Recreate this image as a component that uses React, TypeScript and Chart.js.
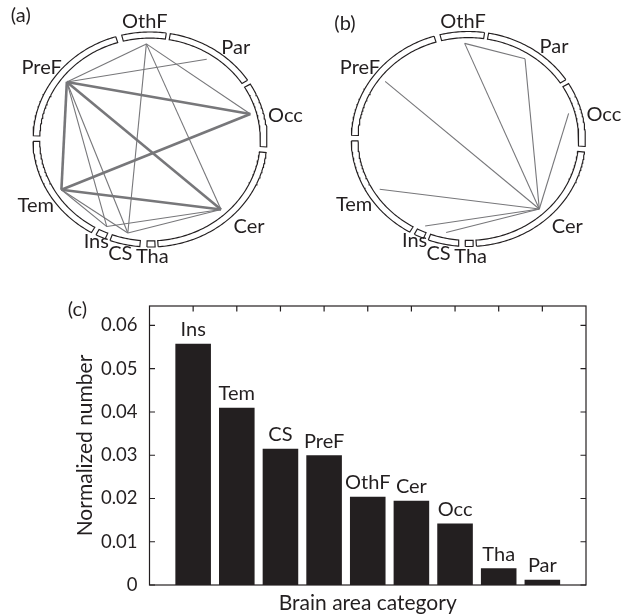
import React, { useEffect, useRef } from 'react';
import { Chart, registerables } from 'chart.js';

Chart.register(...registerables);

// ---------------- DATA ----------------
// Brain regions around the ring (angles in degrees, counter-clockwise from east)
const REGIONS = ['OthF', 'Par', 'Occ', 'Cer', 'Tha', 'CS', 'Ins', 'Tem', 'PreF'];
const REGION_START = [82, 33.5, -4, 274, 268.5, 250, 242.5, 181, 107];
const REGION_END = [104, 80, 31, 353, 272.5, 265, 247.5, 240, 178];
const NODE_ANGLE = [92, 57, 15.5, 313, 270.5, 257.7, 245.5, 211.7, 143];

// Panel (a) connections
const LINKS_A_STRONG = [
  ['PreF', 'Tem'],
  ['PreF', 'Occ'],
  ['PreF', 'Cer'],
  ['Tem', 'Occ'],
  ['Tem', 'Cer'],
];
const LINKS_A_WEAK = [
  ['OthF', 'PreF'],
  ['OthF', 'Occ'],
  ['OthF', 'Cer'],
  ['OthF', 'CS'],
  ['PreF', 'Par'],
  ['PreF', 'Ins'],
  ['PreF', 'CS'],
  ['Tem', 'Ins'],
  ['Tem', 'CS'],
  ['Cer', 'CS'],
  ['Cer', 'Ins'],
];
// Panel (b) connections
const LINKS_B = [
  ['OthF', 'Par'],
  ['OthF', 'Cer'],
  ['Par', 'Cer'],
  ['PreF', 'Cer'],
  ['Occ', 'Cer'],
  ['Tem', 'Cer'],
  ['Ins', 'Cer'],
  ['CS', 'Cer'],
];

// Panel (c) bar chart
const CATEGORIES = ['Ins', 'Tem', 'CS', 'PreF', 'OthF', 'Cer', 'Occ', 'Tha', 'Par'];
const VALUES = [0.0558, 0.041, 0.0315, 0.03, 0.0204, 0.0195, 0.0142, 0.0039, 0.0012];
const Y_TICKS = [0, 0.01, 0.02, 0.03, 0.04, 0.05, 0.06];
const Y_TICK_LABELS = ['0', '0.01', '0.02', '0.03', '0.04', '0.05', '0.06'];
const X_TITLE = 'Brain area category';
const Y_TITLE = 'Normalized number';

// ---------------- LAYOUT / STYLE ----------------
const INK = '#231f20';
const LINK_COLOR = '#77777a';
const FONT = 'Lato, "Open Sans", sans-serif';
const R_OUT = 1.0;
const R_IN = 0.943;
const R_NODE = 0.89;
// label positions (unit coordinates, relative to ring centre)
const LABEL_XY: Record<string, [number, number]> = {
  OthF: [-0.045, 1.102],
  Par: [0.733, 0.863],
  Occ: [1.158, 0.228],
  Cer: [0.846, -0.805],
  Tha: [0.02, -1.084],
  CS: [-0.254, -1.059],
  Ins: [-0.459, -0.942],
  Tem: [-0.976, -0.609],
  PreF: [-0.926, 0.67],
};

const toRad = (d: number) => (d * Math.PI) / 180;
const pointAt = (angle: number, r: number) => ({
  x: r * Math.cos(toRad(angle)),
  y: r * Math.sin(toRad(angle)),
});

function segmentPoints(start: number, end: number) {
  const pts: { x: number; y: number }[] = [];
  const n = Math.max(2, Math.ceil(end - start));
  for (let i = 0; i <= n; i++) pts.push(pointAt(start + ((end - start) * i) / n, R_OUT));
  for (let i = n; i >= 0; i--) pts.push(pointAt(start + ((end - start) * i) / n, R_IN));
  pts.push(pts[0]);
  return pts;
}

function nodePoint(name: string) {
  const i = REGIONS.indexOf(name);
  return pointAt(NODE_ANGLE[i], R_NODE);
}

function ringConfig(
  linkGroups: { links: string[][]; width: number }[],
  xr: [number, number],
  yr: [number, number],
  panel: string,
  panelPos: [number, number]
): any {
  const datasets: any[] = [];
  REGIONS.forEach((_, i) => {
    datasets.push({
      data: segmentPoints(REGION_START[i], REGION_END[i]),
      showLine: true,
      borderColor: INK,
      borderWidth: 1.15,
      pointRadius: 0,
      fill: false,
      tension: 0,
    });
  });
  linkGroups.forEach((g) => {
    g.links.forEach(([a, b]) => {
      datasets.push({
        data: [nodePoint(a), nodePoint(b)],
        showLine: true,
        borderColor: LINK_COLOR,
        borderWidth: g.width,
        pointRadius: 0,
        fill: false,
      });
    });
  });
  const labelPlugin = {
    id: 'ringLabels' + panel,
    afterDraw(chart: any) {
      const ctx = chart.ctx;
      const xs = chart.scales.x;
      const ys = chart.scales.y;
      ctx.save();
      ctx.fillStyle = INK;
      ctx.font = `20px ${FONT}`;
      ctx.textAlign = 'center';
      ctx.textBaseline = 'alphabetic';
      REGIONS.forEach((name) => {
        const [lx, ly] = LABEL_XY[name];
        ctx.fillText(name, xs.getPixelForValue(lx), ys.getPixelForValue(ly) + 7);
      });
      ctx.font = `20px ${FONT}`;
      ctx.fillText(panel, panelPos[0], panelPos[1]);
      ctx.restore();
    },
  };
  return {
    type: 'scatter',
    data: { datasets },
    options: {
      responsive: false,
      animation: false,
      events: [],
      layout: { padding: 0 },
      scales: {
        x: { type: 'linear', min: xr[0], max: xr[1], display: false },
        y: { type: 'linear', min: yr[0], max: yr[1], display: false },
      },
      plugins: { legend: { display: false }, tooltip: { enabled: false } },
    },
    plugins: [labelPlugin],
  };
}

function barConfig(): any {
  const framePlugin = {
    id: 'frameAndLabels',
    afterDraw(chart: any) {
      const ctx = chart.ctx;
      const { left, right, top, bottom } = chart.chartArea;
      const xs = chart.scales.x;
      const ys = chart.scales.y;
      ctx.save();
      ctx.strokeStyle = INK;
      ctx.lineWidth = 1.2;
      ctx.strokeRect(left, top, right - left, bottom - top);
      ctx.beginPath();
      Y_TICKS.forEach((v) => {
        const y = ys.getPixelForValue(v);
        ctx.moveTo(left, y);
        ctx.lineTo(left + 5.5, y);
        ctx.moveTo(right, y);
        ctx.lineTo(right - 5.5, y);
      });
      CATEGORIES.forEach((_, i) => {
        const x = xs.getPixelForValue(i + 1);
        ctx.moveTo(x, top);
        ctx.lineTo(x, top + 5.5);
      });
      ctx.stroke();
      // bar labels
      ctx.fillStyle = INK;
      ctx.font = `20px ${FONT}`;
      ctx.textAlign = 'center';
      ctx.textBaseline = 'alphabetic';
      CATEGORIES.forEach((c, i) => {
        const x = xs.getPixelForValue(i + 1);
        const y = ys.getPixelForValue(VALUES[i]);
        ctx.fillText(c, x, y - 7.5);
      });
      // axis titles
      ctx.font = `21px ${FONT}`;
      ctx.fillText(X_TITLE, (left + right) / 2, 330);
      ctx.save();
      ctx.translate(91.5, (top + bottom) / 2);
      ctx.rotate(-Math.PI / 2);
      ctx.fillText(Y_TITLE, 0, 0);
      ctx.restore();
      ctx.font = `20px ${FONT}`;
      ctx.fillText('(c)', 77.5, 36);
      ctx.restore();
    },
  };
  return {
    type: 'bar',
    data: {
      labels: ['', ...CATEGORIES, ''],
      datasets: [
        {
          data: [null, ...VALUES, null],
          backgroundColor: INK,
          borderWidth: 0,
          categoryPercentage: 1,
          barPercentage: 0.815,
        },
      ],
    },
    options: {
      responsive: false,
      animation: false,
      events: [],
      layout: { padding: { left: 0, top: 26, right: 35, bottom: 0 } },
      scales: {
        x: {
          type: 'category',
          offset: false,
          grid: { display: false, drawTicks: false },
          border: { display: false },
          ticks: { display: false },
          afterFit: (s: any) => {
            s.height = 29;
          },
        },
        y: {
          type: 'linear',
          min: 0,
          max: 0.0645,
          grid: { display: false, drawTicks: false },
          border: { display: false },
          afterBuildTicks: (s: any) => {
            s.ticks = Y_TICKS.map((v) => ({ value: v }));
          },
          ticks: {
            padding: 12,
            color: INK,
            font: { family: FONT, size: 18.5 },
            callback: (v: any) => {
              const i = Y_TICKS.findIndex((t) => Math.abs(t - v) < 1e-9);
              return i >= 0 ? Y_TICK_LABELS[i] : '';
            },
          },
          afterFit: (s: any) => {
            s.width = 149.5;
          },
        },
      },
      plugins: { legend: { display: false }, tooltip: { enabled: false } },
    },
    plugins: [framePlugin],
  };
}

export default function App() {
  const refA = useRef<HTMLCanvasElement>(null);
  const refB = useRef<HTMLCanvasElement>(null);
  const refC = useRef<HTMLCanvasElement>(null);

  useEffect(() => {
    const charts: Chart[] = [];
    if (refA.current) {
      charts.push(
        new Chart(
          refA.current,
          ringConfig(
            [
              { links: LINKS_A_WEAK, width: 1.1 },
              { links: LINKS_A_STRONG, width: 2.6 },
            ],
            [-150 / 117, 160 / 117],
            [-140.5 / 107.5, 139.5 / 107.5],
            '(a)',
            [20.8, 22]
          )
        )
      );
    }
    if (refB.current) {
      charts.push(
        new Chart(
          refB.current,
          ringConfig(
            [{ links: LINKS_B, width: 1.1 }],
            [-158.3 / 117, 152.7 / 117],
            [-141 / 107.5, 139 / 107.5],
            '(b)',
            [35, 29.5]
          )
        )
      );
    }
    if (refC.current) {
      charts.push(new Chart(refC.current, barConfig()));
    }
    return () => charts.forEach((c) => c.destroy());
  }, []);

  return (
    <div style={{ position: 'absolute', left: 0, top: 0, width: 621, height: 614, background: '#fff' }}>
      <canvas ref={refA} width={310} height={280} style={{ position: 'absolute', left: 0, top: 0 }} />
      <canvas ref={refB} width={311} height={280} style={{ position: 'absolute', left: 310, top: 0 }} />
      <canvas ref={refC} width={621} height={334} style={{ position: 'absolute', left: 0, top: 280 }} />
    </div>
  );
}
